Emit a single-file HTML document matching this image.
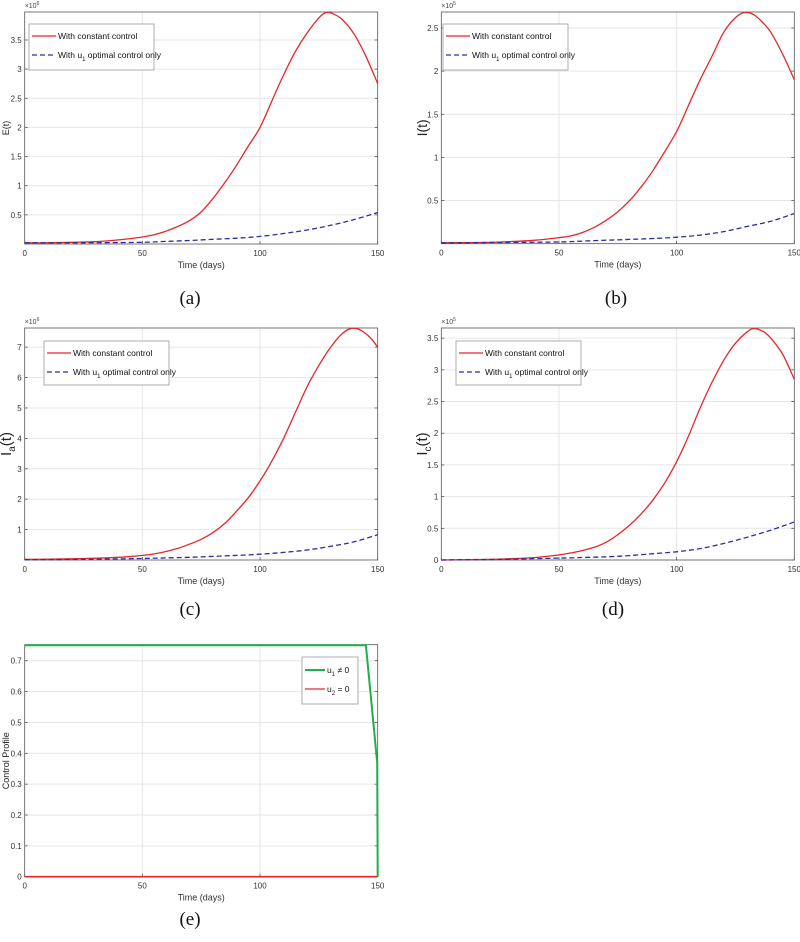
<!DOCTYPE html>
<html><head><meta charset="utf-8"><style>
body{margin:0;background:#fff;width:800px;height:942px;overflow:hidden}
svg{display:block}
text{font-family:"Liberation Sans",sans-serif}
.cap{font-family:"Liberation Serif",serif;font-size:19px;fill:#111}
</style></head><body>
<svg id="fig" width="800" height="942" viewBox="0 0 800 942"></svg>
<script>
// ---- data ----
const ticksX = [0, 50, 100, 150];
const aT = [0,10,20,30,40,50,55,60,65,70,75,80,85,90,95,100,105,110,115,120,125,128,131,135,140,145,150];
const aRed = [0.02,0.02,0.03,0.04,0.07,0.12,0.16,0.22,0.3,0.4,0.55,0.78,1.05,1.35,1.68,2.0,2.45,2.9,3.3,3.62,3.88,3.97,3.95,3.85,3.6,3.22,2.75];
const aBT = [0,25,50,60,70,80,90,100,110,120,130,140,150];
const aBlue = [0.02,0.02,0.03,0.045,0.06,0.08,0.1,0.13,0.18,0.24,0.32,0.42,0.54];
const aTicks = [0.5,1,1.5,2,2.5,3,3.5];
const bT = [0,20,30,40,50,55,60,65,70,75,80,85,90,95,100,105,110,115,120,125,129,133,137,140,145,150];
const bRed = [0.01,0.015,0.025,0.04,0.07,0.09,0.13,0.19,0.27,0.37,0.5,0.66,0.85,1.07,1.3,1.6,1.9,2.17,2.45,2.62,2.68,2.65,2.55,2.45,2.2,1.9];
const bBT = [0,30,50,60,70,80,90,100,110,120,130,140,150];
const bBlue = [0.01,0.015,0.02,0.03,0.04,0.05,0.06,0.075,0.1,0.14,0.2,0.26,0.35];
const bTicks = [0.5,1,1.5,2,2.5];
const cT = [0,20,30,40,50,55,60,65,70,75,80,85,90,95,100,105,110,115,120,125,130,135,139,143,147,150];
const cRed = [0.02,0.04,0.06,0.09,0.15,0.2,0.28,0.38,0.52,0.68,0.9,1.2,1.6,2.05,2.6,3.25,4.0,4.85,5.7,6.4,7.0,7.45,7.62,7.55,7.3,7.0];
const cBT = [0,25,50,60,70,80,90,100,110,120,130,140,150];
const cBlue = [0.01,0.02,0.05,0.07,0.09,0.12,0.15,0.19,0.25,0.33,0.45,0.6,0.83];
const cTicks = [1,2,3,4,5,6,7];
const dT = [0,20,30,40,50,55,60,65,70,75,80,85,90,95,100,105,110,115,120,125,130,133,137,140,145,150];
const dRed = [0,0.01,0.02,0.04,0.08,0.11,0.15,0.2,0.28,0.4,0.55,0.73,0.95,1.22,1.55,1.95,2.4,2.8,3.15,3.42,3.6,3.65,3.6,3.5,3.25,2.85];
const dBT = [0,25,50,60,70,80,90,100,110,120,130,140,150];
const dBlue = [0,0.01,0.03,0.04,0.05,0.07,0.1,0.13,0.18,0.26,0.36,0.47,0.6];
const dTicks = [0,0.5,1,1.5,2,2.5,3,3.5];
const eT = [0,145,149.8,150];
const eU1 = [0.75,0.75,0.37,0];
const eU2T = [0,150];
const eU2 = [0,0];
const eTicks = [0,0.1,0.2,0.3,0.4,0.5,0.6,0.7];

const NS="http://www.w3.org/2000/svg";
const svg=document.getElementById('fig');
function mk(tag,attrs,parent){const e=document.createElementNS(NS,tag);for(const k in attrs)e.setAttribute(k,attrs[k]);(parent||svg).appendChild(e);return e;}

function smoothPath(pts){
  let d='M'+pts[0][0].toFixed(1)+','+pts[0][1].toFixed(1);
  for(let i=0;i<pts.length-1;i++){
    const p0=pts[Math.max(0,i-1)],p1=pts[i],p2=pts[i+1],p3=pts[Math.min(pts.length-1,i+2)];
    const c1=[p1[0]+(p2[0]-p0[0])/6,p1[1]+(p2[1]-p0[1])/6];
    const c2=[p2[0]-(p3[0]-p1[0])/6,p2[1]-(p3[1]-p1[1])/6];
    d+=' C'+c1[0].toFixed(1)+','+c1[1].toFixed(1)+' '+c2[0].toFixed(1)+','+c2[1].toFixed(1)+' '+p2[0].toFixed(1)+','+p2[1].toFixed(1);
  }
  return d;
}

function panel(o){
  const g=mk('g',{});
  
  
  const xs=t=>o.x0+(t-0)/150*(o.x1-o.x0);
  const ys=v=>o.yb-(v-o.ymin)/(o.ymax-o.ymin)*(o.yb-o.yt);
  ticksX.forEach(t=>{ if(t>0&&t<150){const l=mk('line',{x1:xs(t),x2:xs(t),y1:o.yt,y2:o.yb,stroke:'#e6e6e6','stroke-width':1},g);
    }});
  o.ticks.forEach(v=>{const y=ys(v);const l=mk('line',{x1:o.x0,x2:o.x1,y1:y,y2:y,stroke:'#e6e6e6','stroke-width':1},g);
    
    const tx=mk('text',{x:o.x0-3,y:y+3,'font-size':8,'text-anchor':'end',fill:'#333'},g);tx.textContent=String(v);
    
    mk('line',{x1:o.x0,x2:o.x0+3,y1:y,y2:y,stroke:'#444','stroke-width':0.7},g);
    mk('line',{x1:o.x1,x2:o.x1-3,y1:y,y2:y,stroke:'#444','stroke-width':0.7},g);});
  ticksX.forEach(t=>{const x=xs(t);const tx=mk('text',{x:x,y:o.yb+12,'font-size':8,'text-anchor':'middle',fill:'#333'},g);tx.textContent=String(t);
    
    mk('line',{x1:x,x2:x,y1:o.yb,y2:o.yb-3,stroke:'#444','stroke-width':0.7},g);});
  const box=mk('rect',{x:o.x0,y:o.yt,width:o.x1-o.x0,height:o.yb-o.yt,fill:'none',stroke:'#555','stroke-width':0.8},g);
  
  o.series.forEach(s=>{
    const pts=s.t.map((t,i)=>[xs(t),ys(s.v[i])]);
    const p=mk('path',{d:s.linear?('M'+pts.map(p=>p[0].toFixed(1)+','+p[1].toFixed(1)).join(' L')):smoothPath(pts),fill:'none',stroke:s.color,'stroke-width':s.w||1.3,'stroke-dasharray':s.dash||'none'},g);
    
  });
  if(o.exp){const e=mk('text',{x:o.x0,y:o.yt-4,'font-size':7,fill:'#444'},g);
    
    e.innerHTML='×10<tspan dy="-3" font-size="5">'+o.exp+'</tspan>';}
  const xl=mk('text',{x:(o.x0+o.x1)/2,y:o.yb+24,'font-size':9,'text-anchor':'middle',fill:'#333'},g);xl.textContent='Time (days)';
  
  const ylx=o.ylx, yly=(o.yt+o.yb)/2;
  const yl=mk('text',{x:ylx,y:yly,'font-size':o.ylsize,'text-anchor':'middle',fill:'#222',transform:'rotate(-90 '+ylx+' '+yly+')'},g);
  yl.innerHTML=o.ylabel;
  const L=o.legend;
  const lb=mk('rect',{x:L.x,y:L.y,width:L.w,height:L.h,fill:'#fff',stroke:'#999','stroke-width':0.8},g);
  
  L.items.forEach((it,i)=>{const y=L.y+L.first+i*L.gap;
    const ln=mk('line',{x1:L.x+3,x2:L.x+3+L.ll,y1:y,y2:y,stroke:it.color,'stroke-width':it.w||1.3,'stroke-dasharray':it.dash||'none'},g);
    
    const tx=mk('text',{x:L.x+5+L.ll,y:y+3,'font-size':8.5,fill:'#111'},g);tx.innerHTML=it.label;
    });
  const cap=mk('text',{x:o.capx,y:o.capy,'text-anchor':'middle',class:'cap'},g);cap.textContent=o.cap;
  
}
const legRB=[{color:'#e8262a',label:'With constant control'},{color:'#2b2fa0',dash:'5,3',label:'With u<tspan dy="3" font-size="6">1</tspan><tspan dy="-3"> optimal control only</tspan>'}];
const legW={x:0,y:0,w:125,h:46,first:12,gap:19,ll:24,items:legRB};
panel({name:'panel-a',x0:24.7,x1:377.7,yt:12,yb:244,ymin:0,ymax:3.98,ticks:aTicks,exp:'6',ylabel:'E(t)',ylsize:9,ylx:9,cap:'(a)',capx:190,capy:304,
  legend:Object.assign({},legW,{x:29,y:24}),
  series:[{name:'red-line-a',t:aT,v:aRed,color:'#e8262a'},{name:'blue-dashed-a',t:aBT,v:aBlue,color:'#2b2fa0',dash:'5,3'}]});
panel({name:'panel-b',x0:441.3,x1:794.3,yt:12,yb:243.7,ymin:0,ymax:2.685,ticks:bTicks,exp:'5',ylabel:'I(t)',ylsize:14,ylx:427,cap:'(b)',capx:616,capy:304,
  legend:Object.assign({},legW,{x:443,y:24}),
  series:[{name:'red-line-b',t:bT,v:bRed,color:'#e8262a'},{name:'blue-dashed-b',t:bBT,v:bBlue,color:'#2b2fa0',dash:'5,3'}]});
panel({name:'panel-c',x0:24.7,x1:377.7,yt:328,yb:560,ymin:0,ymax:7.63,ticks:cTicks,exp:'6',ylabel:'I<tspan dy="4" font-size="10">a</tspan><tspan dy="-4">(t)</tspan>',ylsize:15,ylx:11,cap:'(c)',capx:190,capy:615,
  legend:Object.assign({},legW,{x:44,y:341,h:44}),
  series:[{name:'red-line-c',t:cT,v:cRed,color:'#e8262a'},{name:'blue-dashed-c',t:cBT,v:cBlue,color:'#2b2fa0',dash:'5,3'}]});
panel({name:'panel-d',x0:441.3,x1:794.3,yt:328,yb:560,ymin:0,ymax:3.66,ticks:dTicks,exp:'5',ylabel:'I<tspan dy="4" font-size="10">c</tspan><tspan dy="-4">(t)</tspan>',ylsize:15,ylx:427,cap:'(d)',capx:613,capy:615,
  legend:Object.assign({},legW,{x:456,y:341,h:44}),
  series:[{name:'red-line-d',t:dT,v:dRed,color:'#e8262a'},{name:'blue-dashed-d',t:dBT,v:dBlue,color:'#2b2fa0',dash:'5,3'}]});
panel({name:'panel-e',x0:24.7,x1:377.7,yt:644.7,yb:876.7,ymin:0,ymax:0.752,ticks:eTicks,exp:null,ylabel:'Control Profile',ylsize:9,ylx:9,cap:'(e)',capx:190,capy:925,
  legend:{x:302,y:657,w:56,h:47,first:13,gap:19,ll:20,items:[{color:'#1db04b',w:2,label:'u<tspan dy="3" font-size="6">1</tspan><tspan dy="-3"> ≠ 0</tspan>'},{color:'#e8262a',label:'u<tspan dy="3" font-size="6">2</tspan><tspan dy="-3"> = 0</tspan>'}]},
  series:[{name:'u1-line',t:eT,v:eU1,color:'#1db04b',w:2,linear:true},{name:'u2-line',t:eU2T,v:eU2,color:'#e8262a',w:1.6,linear:true}]});
</script>
</body></html>
